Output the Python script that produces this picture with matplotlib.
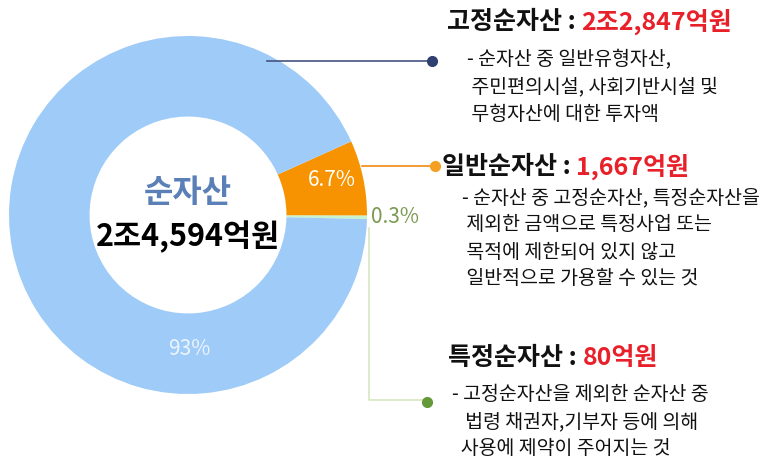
import matplotlib
matplotlib.use("Agg")
import matplotlib.pyplot as plt

plt.rcParams['font.family'] = ['Noto Sans CJK KR', 'DejaVu Sans']

# 순자산 구성 (억원)
names = ['특정순자산', '일반순자산', '고정순자산']
values = [80, 1667, 22847]
pct_labels = ['0.3%', '6.7%', '93%']
amount_labels = ['80억원', '1,667억원', '2조2,847억원']
colors = ['#c8f3cc', '#f79300', '#9ecbf7']
total_label = '2조4,594억원'

desc = {
    '고정순자산': ['- 순자산 중 일반유형자산,', ' 주민편의시설, 사회기반시설 및', ' 무형자산에 대한 투자액'],
    '일반순자산': ['- 순자산 중 고정순자산, 특정순자산을', ' 제외한 금액으로 특정사업 또는',
               ' 목적에 제한되어 있지 않고', ' 일반적으로 가용할 수 있는 것'],
    '특정순자산': ['- 고정순자산을 제외한 순자산 중', '   법령 채권자,기부자 등에 의해', '  사용에 제약이 주어지는 것'],
}

W, H = 781, 459
fig = plt.figure(figsize=(W / 100, H / 100), dpi=100)
ax = fig.add_axes([0, 0, 1, 1])

cx, cy, R = 188, H - 215, 179
ax.pie(values, colors=colors, startangle=-1.3, counterclock=True, center=(cx, cy), radius=R,
       wedgeprops=dict(width=R * 0.45, edgecolor='none'))
ax.set_xlim(0, W)
ax.set_ylim(0, H)
ax.set_aspect('auto')
ax.axis('off')

def Y(y):
    return H - y

# 중앙 텍스트
ax.text(cx, Y(193), '순자산', ha='center', va='center', fontsize=23, fontweight='bold', color='#5b80b8')
ax.text(cx, Y(237), total_label, ha='center', va='center', fontsize=22, fontweight='bold', color='black')

# 퍼센트 라벨
ax.text(332, Y(180), pct_labels[1], ha='center', va='center', fontsize=15, color='white')
ax.text(395, Y(217), pct_labels[0], ha='center', va='center', fontsize=15, color='#7a9a52')
ax.text(189, Y(349), pct_labels[2], ha='center', va='center', fontsize=15, color='#eef4ff')

# 연결선
ax.plot([267, 432], [Y(61), Y(61)], color='#44547e', lw=1.2)
ax.plot([432], [Y(61)], 'o', color='#2f3f70', ms=7)
ax.plot([362, 435], [Y(166), Y(166)], color='#f08a10', lw=1.2)
ax.plot([435], [Y(166)], 'o', color='#f5a020', ms=7)
ax.plot([369, 369, 427], [Y(228), Y(400), Y(400)], color='#d8e8c0', lw=1.2)
ax.plot([427], [Y(402)], 'o', color='#64993a', ms=7)

# 오른쪽 설명
blocks = [
    ('고정순자산', amount_labels[2], 447, 22, 467, 60),
    ('일반순자산', amount_labels[1], 442, 167, 462, 198),
    ('특정순자산', amount_labels[0], 448, 358, 452, 395),
]
for name, amt, tx, ty, bx, by in blocks:
    t = ax.text(tx, Y(ty), name + ' : ', ha='left', va='center', fontsize=18, fontweight='bold', color='#111111')
    fig.canvas.draw()
    bb = t.get_window_extent()
    ax.text(bb.x1, Y(ty), amt, ha='left', va='center', fontsize=18, fontweight='bold', color='#e8202a')
    for i, line in enumerate(desc[name]):
        ax.text(bx, Y(by + i * 27), line, ha='left', va='center', fontsize=14, color='#111111')

fig.savefig('out.png', dpi=100)
